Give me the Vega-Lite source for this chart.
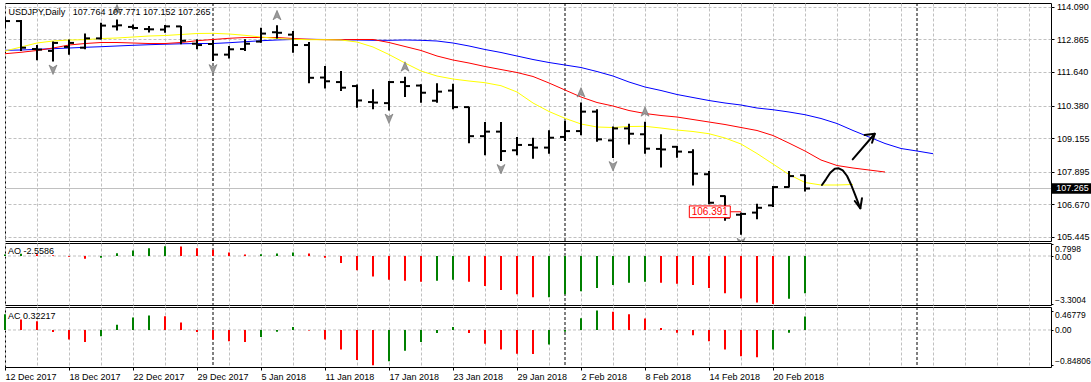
{
"$schema": "https://vega.github.io/schema/vega-lite/v6.json",
"padding": {"left": 3, "top": 2, "right": 0, "bottom": 0},
"autosize": {"type": "pad"},
"background": "white",
"spacing": 2,
"bounds": "flush",
"config": {
  "view": {"stroke": "black", "strokeWidth": 1},
  "axis": {"labelFont": "Liberation Sans", "labelFontSize": 9, "labelColor": "black", "tickColor": "black", "gridColor": "#c0c0c0", "gridDash": [3, 2], "gridWidth": 1, "domain": false, "labelOverlap": false},
  "text": {"font": "Liberation Sans"},
  "title": {"font": "Liberation Sans", "fontSize": 9, "fontWeight": "normal", "color": "black", "anchor": "start"}
},
"datasets": {
  "seps": [{"i": 13}, {"i": 35}, {"i": 57}],
  "bars": [
    {"i":0,"o":113.45,"h":113.70,"l":113.30,"c":113.55},
    {"i":1,"o":113.55,"h":113.59,"l":112.43,"c":112.55},
    {"i":2,"o":112.50,"h":112.65,"l":112.08,"c":112.48},
    {"i":3,"o":112.43,"h":112.78,"l":112.03,"c":112.73},
    {"i":4,"o":112.58,"h":112.86,"l":112.29,"c":112.73},
    {"i":5,"o":112.55,"h":113.08,"l":112.49,"c":112.90},
    {"i":6,"o":112.90,"h":113.49,"l":112.86,"c":113.38},
    {"i":7,"o":113.35,"h":113.61,"l":113.20,"c":113.39},
    {"i":8,"o":113.33,"h":113.42,"l":113.23,"c":113.29},
    {"i":9,"o":113.25,"h":113.36,"l":113.12,"c":113.24},
    {"i":10,"o":113.23,"h":113.40,"l":113.11,"c":113.35},
    {"i":11,"o":113.35,"h":113.36,"l":112.68,"c":112.81},
    {"i":12,"o":112.70,"h":112.87,"l":112.49,"c":112.65},
    {"i":13,"o":112.69,"h":112.84,"l":112.05,"c":112.29},
    {"i":14,"o":112.29,"h":112.61,"l":112.14,"c":112.49},
    {"i":15,"o":112.50,"h":112.87,"l":112.43,"c":112.70},
    {"i":16,"o":112.78,"h":113.30,"l":112.74,"c":113.08},
    {"i":17,"o":113.13,"h":113.39,"l":112.90,"c":113.11},
    {"i":18,"o":113.04,"h":113.18,"l":112.36,"c":112.65},
    {"i":19,"o":112.65,"h":112.76,"l":111.22,"c":111.42},
    {"i":20,"o":111.43,"h":111.86,"l":111.02,"c":111.29},
    {"i":21,"o":111.26,"h":111.68,"l":110.92,"c":111.05},
    {"i":22,"o":111.11,"h":111.17,"l":110.30,"c":110.57},
    {"i":23,"o":110.51,"h":110.99,"l":110.24,"c":110.49},
    {"i":24,"o":110.47,"h":111.30,"l":110.19,"c":111.26},
    {"i":25,"o":111.26,"h":111.46,"l":110.70,"c":111.11},
    {"i":26,"o":111.13,"h":111.18,"l":110.48,"c":110.86},
    {"i":27,"o":110.56,"h":111.22,"l":110.48,"c":110.90},
    {"i":28,"o":110.94,"h":111.20,"l":110.24,"c":110.32},
    {"i":29,"o":110.32,"h":110.33,"l":108.96,"c":109.23},
    {"i":30,"o":109.23,"h":109.76,"l":108.51,"c":109.40},
    {"i":31,"o":109.40,"h":109.76,"l":108.30,"c":108.67},
    {"i":32,"o":108.70,"h":109.20,"l":108.51,"c":108.90},
    {"i":33,"o":108.90,"h":109.17,"l":108.38,"c":108.80},
    {"i":34,"o":108.80,"h":109.45,"l":108.57,"c":109.17},
    {"i":35,"o":109.20,"h":109.80,"l":109.05,"c":109.42},
    {"i":36,"o":109.42,"h":110.49,"l":109.26,"c":110.15},
    {"i":37,"o":110.15,"h":110.24,"l":109.02,"c":109.11},
    {"i":38,"o":109.07,"h":109.59,"l":108.41,"c":109.52},
    {"i":39,"o":109.52,"h":109.70,"l":108.92,"c":109.32},
    {"i":40,"o":109.30,"h":109.77,"l":108.57,"c":108.76},
    {"i":41,"o":108.75,"h":109.30,"l":108.05,"c":108.73},
    {"i":42,"o":108.83,"h":108.86,"l":108.42,"c":108.65},
    {"i":43,"o":108.63,"h":108.74,"l":107.38,"c":107.82},
    {"i":44,"o":107.80,"h":107.92,"l":106.67,"c":106.73},
    {"i":45,"o":106.98,"h":107.00,"l":106.05,"c":106.17},
    {"i":46,"o":106.28,"h":106.36,"l":105.53,"c":106.31},
    {"i":47,"o":106.36,"h":106.69,"l":106.11,"c":106.54},
    {"i":48,"o":106.63,"h":107.36,"l":106.57,"c":107.32},
    {"i":49,"o":107.32,"h":107.92,"l":107.30,"c":107.73},
    {"i":50,"o":107.764,"h":107.771,"l":107.152,"c":107.265}
  ],
  "gator": [
    {"i":0,"jaw":112.452,"teeth":112.324,"lips":112.426},
    {"i":1,"jaw":112.463,"teeth":112.377,"lips":112.576},
    {"i":2,"jaw":112.490,"teeth":112.445,"lips":112.726},
    {"i":3,"jaw":112.512,"teeth":112.538,"lips":112.801},
    {"i":4,"jaw":112.538,"teeth":112.651,"lips":112.839},
    {"i":5,"jaw":112.565,"teeth":112.707,"lips":112.850},
    {"i":6,"jaw":112.587,"teeth":112.745,"lips":112.895},
    {"i":7,"jaw":112.614,"teeth":112.745,"lips":112.914},
    {"i":8,"jaw":112.640,"teeth":112.726,"lips":112.951},
    {"i":9,"jaw":112.662,"teeth":112.707,"lips":112.989},
    {"i":10,"jaw":112.681,"teeth":112.707,"lips":113.008},
    {"i":11,"jaw":112.696,"teeth":112.745,"lips":113.045},
    {"i":12,"jaw":112.707,"teeth":112.812,"lips":113.083},
    {"i":13,"jaw":112.707,"teeth":112.858,"lips":113.090},
    {"i":14,"jaw":112.737,"teeth":112.903,"lips":113.064},
    {"i":15,"jaw":112.775,"teeth":112.933,"lips":113.015},
    {"i":16,"jaw":112.812,"teeth":112.933,"lips":112.951},
    {"i":17,"jaw":112.839,"teeth":112.933,"lips":112.895},
    {"i":18,"jaw":112.858,"teeth":112.895,"lips":112.865},
    {"i":19,"jaw":112.865,"teeth":112.865,"lips":112.850},
    {"i":20,"jaw":112.858,"teeth":112.850,"lips":112.850},
    {"i":21,"jaw":112.846,"teeth":112.850,"lips":112.839},
    {"i":22,"jaw":112.839,"teeth":112.858,"lips":112.764},
    {"i":23,"jaw":112.827,"teeth":112.858,"lips":112.576},
    {"i":24,"jaw":112.827,"teeth":112.745,"lips":112.294},
    {"i":25,"jaw":112.839,"teeth":112.595,"lips":111.975},
    {"i":26,"jaw":112.827,"teeth":112.445,"lips":111.675},
    {"i":27,"jaw":112.801,"teeth":112.238,"lips":111.487},
    {"i":28,"jaw":112.726,"teeth":112.088,"lips":111.375},
    {"i":29,"jaw":112.614,"teeth":111.975,"lips":111.300},
    {"i":30,"jaw":112.482,"teeth":111.844,"lips":111.236},
    {"i":31,"jaw":112.370,"teeth":111.731,"lips":111.123},
    {"i":32,"jaw":112.238,"teeth":111.619,"lips":110.887},
    {"i":33,"jaw":112.107,"teeth":111.469,"lips":110.474},
    {"i":34,"jaw":111.994,"teeth":111.225,"lips":110.155},
    {"i":35,"jaw":111.900,"teeth":110.962,"lips":109.900},
    {"i":36,"jaw":111.806,"teeth":110.699,"lips":109.686},
    {"i":37,"jaw":111.656,"teeth":110.493,"lips":109.573},
    {"i":38,"jaw":111.487,"teeth":110.361,"lips":109.554},
    {"i":39,"jaw":111.262,"teeth":110.192,"lips":109.592},
    {"i":40,"jaw":111.074,"teeth":110.080,"lips":109.599},
    {"i":41,"jaw":110.943,"teeth":110.005,"lips":109.535},
    {"i":42,"jaw":110.793,"teeth":109.948,"lips":109.460},
    {"i":43,"jaw":110.680,"teeth":109.854,"lips":109.404},
    {"i":44,"jaw":110.568,"teeth":109.761,"lips":109.321},
    {"i":45,"jaw":110.474,"teeth":109.667,"lips":109.160},
    {"i":46,"jaw":110.399,"teeth":109.554,"lips":108.935},
    {"i":47,"jaw":110.286,"teeth":109.442,"lips":108.578},
    {"i":48,"jaw":110.222,"teeth":109.254,"lips":108.184},
    {"i":49,"jaw":110.136,"teeth":108.969,"lips":107.790},
    {"i":50,"jaw":110.035,"teeth":108.672,"lips":107.490},
    {"i":51,"jaw":109.892,"teeth":108.334,"lips":107.396},
    {"i":52,"jaw":109.704,"teeth":108.128,"lips":107.396},
    {"i":53,"jaw":109.442,"teeth":108.034,"lips":107.415},
    {"i":54,"jaw":109.198,"teeth":107.959,"lips":null},
    {"i":55,"jaw":108.954,"teeth":107.884,"lips":null},
    {"i":56,"jaw":108.766,"teeth":null,"lips":null},
    {"i":57,"jaw":108.672,"teeth":null,"lips":null},
    {"i":58,"jaw":108.571,"teeth":null,"lips":null}
  ],
  "fractals": [
    {"i":7,"t":"up","p":113.61},{"i":17,"t":"up","p":113.39},{"i":25,"t":"up","p":111.46},{"i":36,"t":"up","p":110.49},{"i":40,"t":"up","p":109.77},
    {"i":3,"t":"down","p":112.03},{"i":13,"t":"down","p":112.05},{"i":24,"t":"down","p":110.19},{"i":31,"t":"down","p":108.30},{"i":38,"t":"down","p":108.41},{"i":46,"t":"down","p":105.53}
  ],
  "arrows": [
    {"g":"a1","k":0,"i":52.98,"p":108.360},{"g":"a1","k":1,"i":54.36,"p":109.321},
    {"g":"a1h","k":0,"i":53.73,"p":109.273},{"g":"a1h","k":1,"i":54.36,"p":109.321},{"g":"a1h","k":2,"i":54.19,"p":108.984},
    {"g":"a2","k":0,"i":51.06,"p":107.396},{"g":"a2","k":1,"i":51.31,"p":107.610},{"g":"a2","k":2,"i":51.58,"p":107.857},{"g":"a2","k":3,"i":51.86,"p":108.008},{"g":"a2","k":4,"i":52.11,"p":108.023},{"g":"a2","k":5,"i":52.36,"p":107.948},{"g":"a2","k":6,"i":52.63,"p":107.734},{"g":"a2","k":7,"i":52.89,"p":107.396},{"g":"a2","k":8,"i":53.14,"p":107.020},{"g":"a2","k":9,"i":53.36,"p":106.671},{"g":"a2","k":10,"i":53.46,"p":106.521},
    {"g":"a2h","k":0,"i":53.11,"p":106.795},{"g":"a2h","k":1,"i":53.46,"p":106.521},{"g":"a2h","k":2,"i":53.56,"p":106.896}
  ],
  "ao": [
    {"i":0,"v":0.10,"d":"up"},{"i":1,"v":0.15,"d":"up"},{"i":2,"v":0.12,"d":"down"},{"i":3,"v":0.05,"d":"down"},{"i":4,"v":-0.05,"d":"down"},
    {"i":5,"v":-0.19,"d":"down"},{"i":6,"v":-0.12,"d":"up"},{"i":7,"v":0.19,"d":"up"},{"i":8,"v":0.38,"d":"up"},{"i":9,"v":0.53,"d":"up"},
    {"i":10,"v":0.67,"d":"up"},{"i":11,"v":0.66,"d":"down"},{"i":12,"v":0.53,"d":"down"},{"i":13,"v":0.43,"d":"down"},{"i":14,"v":0.24,"d":"down"},
    {"i":15,"v":0.10,"d":"down"},{"i":16,"v":0.12,"d":"up"},{"i":17,"v":0.17,"d":"up"},{"i":18,"v":0.24,"d":"up"},{"i":19,"v":0.17,"d":"down"},
    {"i":20,"v":-0.12,"d":"down"},{"i":21,"v":-0.48,"d":"down"},{"i":22,"v":-0.98,"d":"down"},{"i":23,"v":-1.41,"d":"down"},{"i":24,"v":-1.63,"d":"down"},
    {"i":25,"v":-1.70,"d":"down"},{"i":26,"v":-1.77,"d":"down"},{"i":27,"v":-1.70,"d":"up"},{"i":28,"v":-1.63,"d":"up"},{"i":29,"v":-1.77,"d":"down"},
    {"i":30,"v":-2.06,"d":"down"},{"i":31,"v":-2.35,"d":"down"},{"i":32,"v":-2.63,"d":"down"},{"i":33,"v":-2.85,"d":"down"},{"i":34,"v":-2.84,"d":"up"},
    {"i":35,"v":-2.64,"d":"up"},{"i":36,"v":-2.42,"d":"up"},{"i":37,"v":-2.21,"d":"up"},{"i":38,"v":-1.99,"d":"up"},{"i":39,"v":-1.85,"d":"up"},
    {"i":40,"v":-1.78,"d":"up"},{"i":41,"v":-1.85,"d":"down"},{"i":42,"v":-1.92,"d":"down"},{"i":43,"v":-1.99,"d":"down"},{"i":44,"v":-2.21,"d":"down"},
    {"i":45,"v":-2.57,"d":"down"},{"i":46,"v":-2.93,"d":"down"},{"i":47,"v":-3.21,"d":"down"},{"i":48,"v":-3.3004,"d":"down"},{"i":49,"v":-2.95,"d":"up"},
    {"i":50,"v":-2.5586,"d":"up"}
  ],
  "ac": [
    {"i":0,"v":0.376,"d":"up"},{"i":1,"v":0.25,"d":"down"},{"i":2,"v":0.21,"d":"down"},{"i":3,"v":-0.05,"d":"down"},{"i":4,"v":-0.23,"d":"down"},
    {"i":5,"v":-0.29,"d":"down"},{"i":6,"v":-0.15,"d":"up"},{"i":7,"v":0.125,"d":"up"},{"i":8,"v":0.30,"d":"up"},{"i":9,"v":0.35,"d":"up"},
    {"i":10,"v":0.33,"d":"down"},{"i":11,"v":0.18,"d":"down"},{"i":12,"v":-0.05,"d":"down"},{"i":13,"v":-0.23,"d":"down"},{"i":14,"v":-0.27,"d":"down"},
    {"i":15,"v":-0.29,"d":"down"},{"i":16,"v":-0.17,"d":"up"},{"i":17,"v":-0.04,"d":"up"},{"i":18,"v":0.07,"d":"up"},{"i":19,"v":-0.015,"d":"down"},
    {"i":20,"v":-0.23,"d":"down"},{"i":21,"v":-0.47,"d":"down"},{"i":22,"v":-0.72,"d":"down"},{"i":23,"v":-0.84806,"d":"down"},{"i":24,"v":-0.75,"d":"up"},
    {"i":25,"v":-0.50,"d":"up"},{"i":26,"v":-0.29,"d":"up"},{"i":27,"v":-0.07,"d":"up"},{"i":28,"v":0.07,"d":"up"},{"i":29,"v":-0.07,"d":"down"},
    {"i":30,"v":-0.33,"d":"down"},{"i":31,"v":-0.47,"d":"down"},{"i":32,"v":-0.57,"d":"down"},{"i":33,"v":-0.575,"d":"down"},{"i":34,"v":-0.35,"d":"up"},
    {"i":35,"v":-0.04,"d":"up"},{"i":36,"v":0.28,"d":"up"},{"i":37,"v":0.46779,"d":"up"},{"i":38,"v":0.44,"d":"down"},{"i":39,"v":0.377,"d":"down"},
    {"i":40,"v":0.276,"d":"down"},{"i":41,"v":0.05,"d":"down"},{"i":42,"v":-0.067,"d":"down"},{"i":43,"v":-0.126,"d":"down"},{"i":44,"v":-0.268,"d":"down"},
    {"i":45,"v":-0.469,"d":"down"},{"i":46,"v":-0.628,"d":"down"},{"i":47,"v":-0.653,"d":"down"},{"i":48,"v":-0.469,"d":"up"},{"i":49,"v":-0.067,"d":"up"},
    {"i":50,"v":0.32217,"d":"up"}
  ],
  "plabel": [{"t":"106.391","p":106.391}],
  "bid": [{"t":"107.265","p":107.265}],
  "zero": [{"z": 0}]
},
"vconcat": [
  {
    "width": 1046, "height": 238,
    "title": {"text": "USDJPY,Daily\u00a0\u00a0\u00a0107.764 107.771 107.152 107.265", "offset": -21, "dx": 4, "baseline": "alphabetic"},
    "layer": [
      {"data": {"name": "seps"}, "mark": {"type": "rule", "strokeDash": [3, 2], "color": "black"},
       "encoding": {"x": {"field": "i", "type": "quantitative", "title": null, "scale": {"domain": [0, 65.375], "nice": false, "zero": false},
           "axis": {"values": [0,2,4,6,8,10,12,14,16,18,20,22,24,26,28,30,32,34,36,38,40,42,44,46,48,50,52,54,56,58,60,62,64], "tickCount": 200, "grid": true, "labels": false, "ticks": false, "domain": false}}}},
      {"data": {"name": "bid"}, "mark": {"type": "rule", "color": "#c0c0c0"},
       "encoding": {"y": {"field": "p", "type": "quantitative", "title": null, "scale": {"domain": [105.294, 114.228], "nice": false, "zero": false},
           "axis": {"orient": "right", "values": [114.090, 112.865, 111.640, 110.380, 109.155, 107.895, 106.670, 105.445], "tickCount": 200, "format": ".3f", "grid": true, "tickSize": 3, "labelPadding": 2.5, "labelOverlap": false, "labelBound": false, "domain": false}}}},
      {"data": {"name": "gator"}, "transform": [{"fold": ["jaw", "teeth", "lips"], "as": ["line", "v"]}, {"filter": "datum.v != null"}],
       "mark": {"type": "line", "strokeWidth": 1, "clip": true},
       "encoding": {"x": {"field": "i", "type": "quantitative"}, "y": {"field": "v", "type": "quantitative"},
         "color": {"field": "line", "type": "nominal", "scale": {"domain": ["jaw", "teeth", "lips"], "range": ["#0000ff", "#ff0000", "#ffff00"]}, "legend": null}}},
      {"data": {"name": "bars"}, "mark": {"type": "rule", "strokeWidth": 2, "color": "black", "clip": true},
       "encoding": {"x": {"field": "i", "type": "quantitative"}, "y": {"field": "l", "type": "quantitative"}, "y2": {"field": "h"}}},
      {"data": {"name": "bars"}, "mark": {"type": "rule", "strokeWidth": 2, "color": "black", "xOffset": -5, "x2Offset": 0, "clip": true},
       "encoding": {"x": {"field": "i", "type": "quantitative"}, "x2": {"field": "i"}, "y": {"field": "o", "type": "quantitative"}}},
      {"data": {"name": "bars"}, "mark": {"type": "rule", "strokeWidth": 2, "color": "black", "xOffset": 0, "x2Offset": 5, "clip": true},
       "encoding": {"x": {"field": "i", "type": "quantitative"}, "x2": {"field": "i"}, "y": {"field": "c", "type": "quantitative"}}},
      {"data": {"name": "fractals"}, "transform": [{"filter": "datum.t == 'up'"}],
       "mark": {"type": "point", "shape": "M0,-1L0.8,0.9L0,0.4L-0.8,0.9Z", "filled": true, "fill": "#9a9a9a", "stroke": "#606060", "strokeWidth": 0.5, "opacity": 1, "size": 100, "yOffset": -10, "clip": true},
       "encoding": {"x": {"field": "i", "type": "quantitative"}, "y": {"field": "p", "type": "quantitative"}}},
      {"data": {"name": "fractals"}, "transform": [{"filter": "datum.t == 'down'"}],
       "mark": {"type": "point", "shape": "M0,1L0.8,-0.9L0,-0.4L-0.8,-0.9Z", "filled": true, "fill": "#9a9a9a", "stroke": "#606060", "strokeWidth": 0.5, "opacity": 1, "size": 100, "yOffset": 8, "clip": true},
       "encoding": {"x": {"field": "i", "type": "quantitative"}, "y": {"field": "p", "type": "quantitative"}}},
      {"data": {"name": "plabel"}, "mark": {"type": "rule", "color": "#ff0000", "strokeWidth": 1},
       "encoding": {"x": {"datum": 45.33, "type": "quantitative"}, "x2": {"datum": 46}, "y": {"field": "p", "type": "quantitative"}}},
      {"data": {"name": "plabel"}, "mark": {"type": "point", "shape": "M-3.5,-1H3.5V1H-3.5Z", "filled": true, "fill": "white", "stroke": "#ff0000", "strokeWidth": 1, "opacity": 1, "size": 137},
       "encoding": {"x": {"datum": 44.05, "type": "quantitative"}, "y": {"field": "p", "type": "quantitative"}}},
      {"data": {"name": "plabel"}, "mark": {"type": "text", "color": "#ff0000", "fontSize": 10, "align": "center", "baseline": "middle"},
       "encoding": {"x": {"datum": 44.05, "type": "quantitative"}, "y": {"field": "p", "type": "quantitative"}, "text": {"field": "t"}}},
      {"data": {"name": "arrows"}, "mark": {"type": "line", "color": "black", "strokeWidth": 2, "strokeCap": "round", "strokeJoin": "round"},
       "encoding": {"x": {"field": "i", "type": "quantitative"}, "y": {"field": "p", "type": "quantitative"}, "detail": {"field": "g"}, "order": {"field": "k"}}},
      {"data": {"name": "bid"}, "mark": {"type": "point", "shape": "M-4,-1H4V1H-4Z", "filled": true, "fill": "black", "opacity": 1, "size": 110},
       "encoding": {"x": {"datum": 66.72, "type": "quantitative"}, "y": {"field": "p", "type": "quantitative"}}},
      {"data": {"name": "bid"}, "mark": {"type": "text", "color": "white", "fontSize": 9, "align": "center", "baseline": "middle"},
       "encoding": {"x": {"datum": 66.72, "type": "quantitative"}, "y": {"field": "p", "type": "quantitative"}, "text": {"field": "t"}}}
    ]
  },
  {
    "width": 1046, "height": 62,
    "title": {"text": "AO -2.5586", "offset": -20, "dx": 4, "baseline": "alphabetic"},
    "layer": [
      {"data": {"name": "seps"}, "mark": {"type": "rule", "strokeDash": [3, 2], "color": "black"},
       "encoding": {"x": {"field": "i", "type": "quantitative", "title": null, "scale": {"domain": [0, 65.375], "nice": false, "zero": false},
           "axis": {"values": [0,2,4,6,8,10,12,14,16,18,20,22,24,26,28,30,32,34,36,38,40,42,44,46,48,50,52,54,56,58,60,62,64], "tickCount": 200, "grid": true, "labels": false, "ticks": false, "domain": false}}}},
      {"data": {"name": "zero"}, "mark": {"type": "rule", "color": "#c0c0c0", "strokeDash": [3, 2]},
       "encoding": {"y": {"field": "z", "type": "quantitative", "title": null, "scale": {"domain": [-3.376, 0.896], "nice": false, "zero": false},
           "axis": {"orient": "right", "values": [0.7998, 0, -3.3004], "tickCount": 200, "labelExpr": "datum.value == 0 ? '0.00' : format(datum.value, '.4f')", "grid": false, "tickSize": 2, "labelPadding": 1.5, "labelFontSize": 8.5, "labelOverlap": false, "labelBound": false, "domain": false,
             "labelBaseline": {"condition": {"test": "datum.value > 0.5", "value": "top"}, "value": "middle"},
             "labelOffset": {"condition": {"test": "datum.value < -1", "value": -4}, "value": 0}}}}},
      {"data": {"name": "ao"}, "transform": [{"filter": "datum.d == 'up'"}], "mark": {"type": "rule", "strokeWidth": 2, "color": "#008000"},
       "encoding": {"x": {"field": "i", "type": "quantitative"}, "y": {"field": "v", "type": "quantitative"}, "y2": {"datum": 0}}},
      {"data": {"name": "ao"}, "transform": [{"filter": "datum.d == 'down'"}], "mark": {"type": "rule", "strokeWidth": 2, "color": "#ff0000"},
       "encoding": {"x": {"field": "i", "type": "quantitative"}, "y": {"field": "v", "type": "quantitative"}, "y2": {"datum": 0}}}
    ]
  },
  {
    "width": 1046, "height": 60,
    "title": {"text": "AC 0.32217", "offset": -21, "dx": 4, "baseline": "alphabetic"},
    "layer": [
      {"data": {"name": "seps"}, "mark": {"type": "rule", "strokeDash": [3, 2], "color": "black"},
       "encoding": {"x": {"field": "i", "type": "quantitative", "title": null, "scale": {"domain": [0, 65.375], "nice": false, "zero": false},
           "axis": {"values": [0,2,4,6,8,10,12,14,16,18,20,22,24,26,28,30,32,34,36,38,40,42,44,46,48,50,52,54,56,58,60,62,64], "tickCount": 200, "grid": true, "domain": false,
             "labelExpr": "datum.value % 4 == 0 && datum.value <= 48 ? ['12 Dec 2017','18 Dec 2017','22 Dec 2017','29 Dec 2017','5 Jan 2018','11 Jan 2018','17 Jan 2018','23 Jan 2018','29 Jan 2018','2 Feb 2018','8 Feb 2018','14 Feb 2018','20 Feb 2018'][datum.value / 4] : ''",
             "labelAlign": "left", "labelPadding": 2, "labelFlush": false, "labelOverlap": false, "labelBound": false, "tickSize": 3,
             "tickOpacity": {"condition": {"test": "datum.value % 4 == 0 && datum.value <= 48", "value": 1}, "value": 0}}}}},
      {"data": {"name": "zero"}, "mark": {"type": "rule", "color": "#c0c0c0", "strokeDash": [3, 2]},
       "encoding": {"y": {"field": "z", "type": "quantitative", "title": null, "scale": {"domain": [-0.889, 0.552], "nice": false, "zero": false},
           "axis": {"orient": "right", "values": [0.46779, 0, -0.84806], "tickCount": 200, "labelExpr": "datum.value == 0 ? '0.00' : format(datum.value, '.5f')", "grid": false, "tickSize": 2, "labelPadding": 1.5, "labelFontSize": 8.5, "labelOverlap": false, "labelBound": false, "domain": false,
             "labelBaseline": {"condition": {"test": "datum.value > 0.3", "value": "top"}, "value": "middle"},
             "labelOffset": {"condition": {"test": "datum.value < -0.5", "value": -5}, "value": 0}}}}},
      {"data": {"name": "ac"}, "transform": [{"filter": "datum.d == 'up'"}], "mark": {"type": "rule", "strokeWidth": 2, "color": "#008000"},
       "encoding": {"x": {"field": "i", "type": "quantitative"}, "y": {"field": "v", "type": "quantitative"}, "y2": {"datum": 0}}},
      {"data": {"name": "ac"}, "transform": [{"filter": "datum.d == 'down'"}], "mark": {"type": "rule", "strokeWidth": 2, "color": "#ff0000"},
       "encoding": {"x": {"field": "i", "type": "quantitative"}, "y": {"field": "v", "type": "quantitative"}, "y2": {"datum": 0}}}
    ]
  }
]
}
